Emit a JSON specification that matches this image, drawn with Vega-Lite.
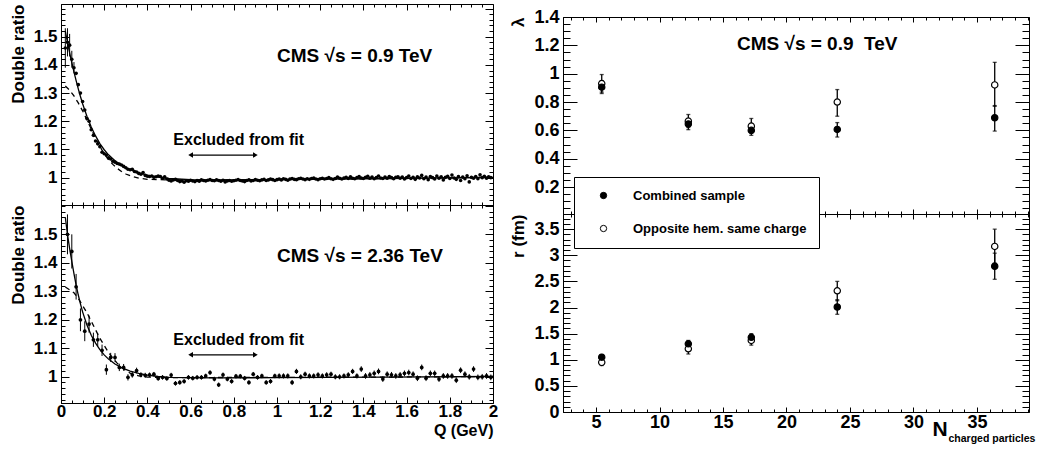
{
"$schema": "https://vega.github.io/schema/vega-lite/v6.json",
"padding": {"left": 8, "top": 3, "right": 0, "bottom": 0},
"config": {
  "view": {"stroke": "black", "strokeWidth": 1},
  "font": "Liberation Sans",
  "axis": {"domainColor": "black", "tickColor": "black", "labelColor": "black", "labelFont": "Liberation Sans", "labelFontWeight": "bold", "labelFontSize": 17, "titleFont": "Liberation Sans", "titleFontWeight": "bold", "titleFontSize": 17, "titleColor": "black", "grid": false, "labelFlush": false, "labelOverlap": false, "tickWidth": 1, "domainWidth": 1}
},
"datasets": {
  "q09": [
    {"Q":0.02,"v":1.46,"e":0.07},{"Q":0.03,"v":1.48,"e":0.05},{"Q":0.04,"v":1.47,"e":0.04},{"Q":0.05,"v":1.42,"e":0.03},{"Q":0.06,"v":1.39,"e":0.02},
    {"Q":0.07,"v":1.37},{"Q":0.08,"v":1.33},{"Q":0.09,"v":1.30},{"Q":0.10,"v":1.27},{"Q":0.11,"v":1.24},{"Q":0.12,"v":1.21},{"Q":0.13,"v":1.20},{"Q":0.14,"v":1.17},{"Q":0.15,"v":1.15},{"Q":0.16,"v":1.13},{"Q":0.17,"v":1.12},{"Q":0.18,"v":1.11},{"Q":0.19,"v":1.09},{"Q":0.20,"v":1.085},
    {"Q":0.21,"v":1.08},{"Q":0.22,"v":1.07},{"Q":0.23,"v":1.066},{"Q":0.24,"v":1.058},{"Q":0.25,"v":1.055},{"Q":0.26,"v":1.05},{"Q":0.27,"v":1.048},{"Q":0.28,"v":1.045},{"Q":0.29,"v":1.04},{"Q":0.30,"v":1.035},
    {"Q":0.31,"v":1.03},{"Q":0.32,"v":1.028},{"Q":0.33,"v":1.03},{"Q":0.34,"v":1.022},{"Q":0.35,"v":1.02},{"Q":0.36,"v":1.015},{"Q":0.37,"v":1.012},{"Q":0.38,"v":1.018},{"Q":0.39,"v":1.008},{"Q":0.40,"v":1.005},
    {"Q":0.41,"v":1.004},{"Q":0.42,"v":1.006},{"Q":0.43,"v":1.001},{"Q":0.44,"v":1.003},{"Q":0.45,"v":1.006},{"Q":0.46,"v":1.004},{"Q":0.47,"v":0.998},{"Q":0.48,"v":1.003},{"Q":0.49,"v":0.995},{"Q":0.50,"v":0.991},
    {"Q":0.51,"v":0.988},{"Q":0.52,"v":0.992},{"Q":0.53,"v":0.994},{"Q":0.54,"v":0.99},{"Q":0.55,"v":0.986},{"Q":0.56,"v":0.988},{"Q":0.57,"v":0.984},{"Q":0.58,"v":0.989},{"Q":0.59,"v":0.987},{"Q":0.60,"v":0.991},
    {"Q":0.61,"v":0.988},{"Q":0.62,"v":0.986},{"Q":0.63,"v":0.99},{"Q":0.64,"v":0.987},{"Q":0.65,"v":0.992},{"Q":0.66,"v":0.99},{"Q":0.67,"v":0.988},{"Q":0.68,"v":0.991},{"Q":0.69,"v":0.993},{"Q":0.70,"v":0.99},
    {"Q":0.71,"v":0.989},{"Q":0.72,"v":0.992},{"Q":0.73,"v":0.99},{"Q":0.74,"v":0.987},{"Q":0.75,"v":0.991},{"Q":0.76,"v":0.985},{"Q":0.77,"v":0.988},{"Q":0.78,"v":0.99},{"Q":0.79,"v":0.987},{"Q":0.80,"v":0.989},
    {"Q":0.81,"v":0.991},{"Q":0.82,"v":0.993},{"Q":0.83,"v":0.99},{"Q":0.84,"v":0.988},{"Q":0.85,"v":0.986},{"Q":0.86,"v":0.99},{"Q":0.87,"v":0.992},{"Q":0.88,"v":0.988},{"Q":0.89,"v":0.99},{"Q":0.90,"v":0.993},
    {"Q":0.91,"v":0.991},{"Q":0.92,"v":0.989},{"Q":0.93,"v":0.992},{"Q":0.94,"v":0.994},{"Q":0.95,"v":0.99},{"Q":0.96,"v":0.992},{"Q":0.97,"v":0.995},{"Q":0.98,"v":0.993},{"Q":0.99,"v":0.99},{"Q":1.00,"v":0.993},
    {"Q":1.01,"v":0.995},{"Q":1.02,"v":0.992},{"Q":1.03,"v":0.996},{"Q":1.04,"v":0.994},{"Q":1.05,"v":0.991},{"Q":1.06,"v":0.995},{"Q":1.07,"v":0.997},{"Q":1.08,"v":0.994},{"Q":1.09,"v":0.993},{"Q":1.10,"v":0.996},
    {"Q":1.11,"v":0.998},{"Q":1.12,"v":0.995},{"Q":1.13,"v":0.993},{"Q":1.14,"v":0.996},{"Q":1.15,"v":0.994},{"Q":1.16,"v":0.997},{"Q":1.17,"v":0.999},{"Q":1.18,"v":0.995},{"Q":1.19,"v":0.993},{"Q":1.20,"v":0.996},
    {"Q":1.21,"v":0.998},{"Q":1.22,"v":0.995},{"Q":1.23,"v":0.997},{"Q":1.24,"v":1.0},{"Q":1.25,"v":0.996},{"Q":1.26,"v":0.994},{"Q":1.27,"v":0.997},{"Q":1.28,"v":1.002},{"Q":1.29,"v":0.998},{"Q":1.30,"v":0.995},
    {"Q":1.31,"v":0.999},{"Q":1.32,"v":1.001},{"Q":1.33,"v":0.997},{"Q":1.34,"v":1.003},{"Q":1.35,"v":0.998},{"Q":1.36,"v":0.996},{"Q":1.37,"v":1.0},{"Q":1.38,"v":1.004},{"Q":1.39,"v":0.999},{"Q":1.40,"v":0.997},
    {"Q":1.41,"v":1.001},{"Q":1.42,"v":1.005},{"Q":1.43,"v":0.998},{"Q":1.44,"v":1.002},{"Q":1.45,"v":0.996},{"Q":1.46,"v":1.0},{"Q":1.47,"v":1.006},{"Q":1.48,"v":0.999},{"Q":1.49,"v":0.997},{"Q":1.50,"v":1.002},
    {"Q":1.51,"v":0.998},{"Q":1.52,"v":1.004},{"Q":1.53,"v":1.0},{"Q":1.54,"v":0.996},{"Q":1.55,"v":1.001},{"Q":1.56,"v":1.003},{"Q":1.57,"v":0.998},{"Q":1.58,"v":1.002},{"Q":1.59,"v":0.995},{"Q":1.60,"v":1.0},
    {"Q":1.61,"v":1.006},{"Q":1.62,"v":0.997},{"Q":1.63,"v":1.001},{"Q":1.64,"v":0.994},{"Q":1.65,"v":1.003},{"Q":1.66,"v":0.999},{"Q":1.67,"v":1.008},{"Q":1.68,"v":0.996},{"Q":1.69,"v":1.002},{"Q":1.70,"v":0.993},
    {"Q":1.71,"v":1.004},{"Q":1.72,"v":1.0},{"Q":1.73,"v":0.995},{"Q":1.74,"v":1.006},{"Q":1.75,"v":0.998},{"Q":1.76,"v":1.003},{"Q":1.77,"v":0.992},{"Q":1.78,"v":1.001},{"Q":1.79,"v":1.005},{"Q":1.80,"v":0.997},
    {"Q":1.81,"v":1.009},{"Q":1.82,"v":0.999},{"Q":1.83,"v":0.994},{"Q":1.84,"v":1.004},{"Q":1.85,"v":0.99},{"Q":1.86,"v":1.002},{"Q":1.87,"v":0.996},{"Q":1.88,"v":1.007},{"Q":1.89,"v":0.985},{"Q":1.90,"v":1.001},
    {"Q":1.91,"v":0.998},{"Q":1.92,"v":1.004},{"Q":1.93,"v":0.996},{"Q":1.94,"v":1.01},{"Q":1.95,"v":1.0},{"Q":1.96,"v":1.005},{"Q":1.97,"v":0.998},{"Q":1.98,"v":1.003},{"Q":1.99,"v":1.0}
  ],
  "fit09": [
    {"Q":0.02,"v":1.52,"f":"exp"},{"Q":0.03,"v":1.48,"f":"exp"},{"Q":0.04,"v":1.443,"f":"exp"},{"Q":0.05,"v":1.408,"f":"exp"},{"Q":0.06,"v":1.375,"f":"exp"},{"Q":0.07,"v":1.344,"f":"exp"},{"Q":0.08,"v":1.315,"f":"exp"},{"Q":0.09,"v":1.288,"f":"exp"},{"Q":0.10,"v":1.262,"f":"exp"},{"Q":0.12,"v":1.218,"f":"exp"},{"Q":0.14,"v":1.18,"f":"exp"},{"Q":0.16,"v":1.148,"f":"exp"},{"Q":0.18,"v":1.121,"f":"exp"},{"Q":0.20,"v":1.099,"f":"exp"},{"Q":0.22,"v":1.081,"f":"exp"},{"Q":0.25,"v":1.06,"f":"exp"},{"Q":0.28,"v":1.044,"f":"exp"},{"Q":0.32,"v":1.028,"f":"exp"},{"Q":0.36,"v":1.017,"f":"exp"},{"Q":0.40,"v":1.009,"f":"exp"},{"Q":0.45,"v":1.002,"f":"exp"},{"Q":0.50,"v":0.997,"f":"exp"},{"Q":0.60,"v":0.993,"f":"exp"},{"Q":0.80,"v":0.992,"f":"exp"},{"Q":1.00,"v":0.993,"f":"exp"},{"Q":1.50,"v":0.997,"f":"exp"},{"Q":2.00,"v":1.001,"f":"exp"},
    {"Q":0.02,"v":1.325,"f":"gauss"},{"Q":0.04,"v":1.31,"f":"gauss"},{"Q":0.06,"v":1.29,"f":"gauss"},{"Q":0.08,"v":1.265,"f":"gauss"},{"Q":0.10,"v":1.237,"f":"gauss"},{"Q":0.12,"v":1.205,"f":"gauss"},{"Q":0.14,"v":1.172,"f":"gauss"},{"Q":0.16,"v":1.14,"f":"gauss"},{"Q":0.18,"v":1.11,"f":"gauss"},{"Q":0.20,"v":1.085,"f":"gauss"},{"Q":0.22,"v":1.064,"f":"gauss"},{"Q":0.24,"v":1.047,"f":"gauss"},{"Q":0.26,"v":1.033,"f":"gauss"},{"Q":0.28,"v":1.022,"f":"gauss"},{"Q":0.30,"v":1.013,"f":"gauss"},{"Q":0.33,"v":1.004,"f":"gauss"},{"Q":0.36,"v":0.998,"f":"gauss"},{"Q":0.40,"v":0.994,"f":"gauss"},{"Q":0.50,"v":0.992,"f":"gauss"},{"Q":0.80,"v":0.992,"f":"gauss"},{"Q":1.00,"v":0.993,"f":"gauss"},{"Q":1.50,"v":0.997,"f":"gauss"},{"Q":2.00,"v":1.001,"f":"gauss"}
  ],
  "q236": [
    {"Q":0.03,"v":1.50,"e":0.07},{"Q":0.05,"v":1.44,"e":0.06},{"Q":0.07,"v":1.316,"e":0.045},{"Q":0.09,"v":1.20,"e":0.04},{"Q":0.11,"v":1.16,"e":0.035},{"Q":0.13,"v":1.185,"e":0.03},{"Q":0.15,"v":1.13,"e":0.025},{"Q":0.17,"v":1.13,"e":0.022},{"Q":0.19,"v":1.093,"e":0.02},{"Q":0.21,"v":1.025,"e":0.018},
    {"Q":0.23,"v":1.068,"e":0.016},{"Q":0.25,"v":1.068,"e":0.015},{"Q":0.27,"v":1.033,"e":0.013},{"Q":0.29,"v":1.033,"e":0.012},{"Q":0.31,"v":0.998,"e":0.011},{"Q":0.33,"v":1.007,"e":0.01},{"Q":0.35,"v":1.022,"e":0.01},{"Q":0.37,"v":1.007,"e":0.009},{"Q":0.39,"v":1.005,"e":0.009},{"Q":0.41,"v":1.007,"e":0.008},
    {"Q":0.43,"v":1.009,"e":0.008},{"Q":0.45,"v":0.994,"e":0.008},{"Q":0.47,"v":0.998,"e":0.008},{"Q":0.49,"v":0.994,"e":0.008},{"Q":0.51,"v":1.006,"e":0.008},{"Q":0.53,"v":0.977,"e":0.008},{"Q":0.55,"v":0.98,"e":0.008},{"Q":0.57,"v":0.984,"e":0.008},{"Q":0.59,"v":0.998,"e":0.008},{"Q":0.61,"v":0.995,"e":0.008},
    {"Q":0.63,"v":0.998,"e":0.008},{"Q":0.65,"v":0.998,"e":0.008},{"Q":0.67,"v":1.003,"e":0.008},{"Q":0.69,"v":1.015,"e":0.008},{"Q":0.71,"v":0.992,"e":0.008},{"Q":0.73,"v":0.972,"e":0.008},{"Q":0.75,"v":1.007,"e":0.008},{"Q":0.77,"v":0.992,"e":0.008},{"Q":0.79,"v":0.984,"e":0.008},{"Q":0.81,"v":1.002,"e":0.008},
    {"Q":0.83,"v":1.002,"e":0.008},{"Q":0.85,"v":0.995,"e":0.008},{"Q":0.87,"v":0.98,"e":0.008},{"Q":0.89,"v":1.009,"e":0.008},{"Q":0.91,"v":0.998,"e":0.008},{"Q":0.93,"v":1.003,"e":0.008},{"Q":0.95,"v":0.98,"e":0.008},{"Q":0.97,"v":0.984,"e":0.008},{"Q":0.99,"v":1.003,"e":0.008},{"Q":1.01,"v":1.003,"e":0.009},
    {"Q":1.03,"v":1.003,"e":0.009},{"Q":1.05,"v":1.003,"e":0.009},{"Q":1.07,"v":0.98,"e":0.009},{"Q":1.09,"v":1.019,"e":0.009},{"Q":1.11,"v":1.0,"e":0.009},{"Q":1.13,"v":1.009,"e":0.009},{"Q":1.15,"v":1.003,"e":0.009},{"Q":1.17,"v":1.003,"e":0.009},{"Q":1.19,"v":1.007,"e":0.009},{"Q":1.21,"v":1.003,"e":0.009},
    {"Q":1.23,"v":1.007,"e":0.009},{"Q":1.25,"v":1.009,"e":0.009},{"Q":1.27,"v":1.0,"e":0.009},{"Q":1.29,"v":1.0,"e":0.009},{"Q":1.31,"v":1.003,"e":0.009},{"Q":1.33,"v":1.007,"e":0.009},{"Q":1.35,"v":1.019,"e":0.009},{"Q":1.37,"v":1.003,"e":0.009},{"Q":1.39,"v":1.027,"e":0.01},{"Q":1.41,"v":1.003,"e":0.01},
    {"Q":1.43,"v":1.007,"e":0.01},{"Q":1.45,"v":1.012,"e":0.01},{"Q":1.47,"v":1.019,"e":0.01},{"Q":1.49,"v":0.992,"e":0.01},{"Q":1.51,"v":1.009,"e":0.01},{"Q":1.53,"v":1.007,"e":0.01},{"Q":1.55,"v":1.003,"e":0.01},{"Q":1.57,"v":1.007,"e":0.01},{"Q":1.59,"v":1.012,"e":0.01},{"Q":1.61,"v":1.015,"e":0.01},
    {"Q":1.63,"v":1.009,"e":0.01},{"Q":1.65,"v":0.995,"e":0.01},{"Q":1.67,"v":1.033,"e":0.01},{"Q":1.69,"v":0.995,"e":0.01},{"Q":1.71,"v":1.012,"e":0.01},{"Q":1.73,"v":1.012,"e":0.01},{"Q":1.75,"v":0.992,"e":0.01},{"Q":1.77,"v":1.003,"e":0.01},{"Q":1.79,"v":1.003,"e":0.01},{"Q":1.81,"v":1.003,"e":0.01},
    {"Q":1.83,"v":0.988,"e":0.01},{"Q":1.85,"v":1.023,"e":0.01},{"Q":1.87,"v":1.009,"e":0.01},{"Q":1.89,"v":1.0,"e":0.01},{"Q":1.91,"v":1.027,"e":0.01},{"Q":1.93,"v":0.998,"e":0.01},{"Q":1.95,"v":1.0,"e":0.01},{"Q":1.97,"v":1.003,"e":0.01},{"Q":1.99,"v":0.998,"e":0.01}
  ],
  "fit236": [
    {"Q":0.02,"v":1.56,"f":"exp"},{"Q":0.03,"v":1.50,"f":"exp"},{"Q":0.04,"v":1.45,"f":"exp"},{"Q":0.05,"v":1.405,"f":"exp"},{"Q":0.06,"v":1.362,"f":"exp"},{"Q":0.07,"v":1.322,"f":"exp"},{"Q":0.08,"v":1.287,"f":"exp"},{"Q":0.09,"v":1.256,"f":"exp"},{"Q":0.10,"v":1.228,"f":"exp"},{"Q":0.12,"v":1.182,"f":"exp"},{"Q":0.14,"v":1.146,"f":"exp"},{"Q":0.16,"v":1.118,"f":"exp"},{"Q":0.18,"v":1.095,"f":"exp"},{"Q":0.20,"v":1.077,"f":"exp"},{"Q":0.22,"v":1.062,"f":"exp"},{"Q":0.25,"v":1.045,"f":"exp"},{"Q":0.28,"v":1.032,"f":"exp"},{"Q":0.32,"v":1.02,"f":"exp"},{"Q":0.36,"v":1.012,"f":"exp"},{"Q":0.40,"v":1.006,"f":"exp"},{"Q":0.45,"v":1.001,"f":"exp"},{"Q":0.50,"v":0.998,"f":"exp"},{"Q":0.70,"v":0.996,"f":"exp"},{"Q":1.00,"v":0.997,"f":"exp"},{"Q":1.50,"v":0.999,"f":"exp"},{"Q":2.00,"v":1.001,"f":"exp"},
    {"Q":0.02,"v":1.315,"f":"gauss"},{"Q":0.04,"v":1.305,"f":"gauss"},{"Q":0.06,"v":1.295,"f":"gauss"},{"Q":0.08,"v":1.275,"f":"gauss"},{"Q":0.10,"v":1.25,"f":"gauss"},{"Q":0.12,"v":1.225,"f":"gauss"},{"Q":0.14,"v":1.195,"f":"gauss"},{"Q":0.16,"v":1.165,"f":"gauss"},{"Q":0.18,"v":1.135,"f":"gauss"},{"Q":0.20,"v":1.11,"f":"gauss"},{"Q":0.22,"v":1.085,"f":"gauss"},{"Q":0.24,"v":1.065,"f":"gauss"},{"Q":0.26,"v":1.048,"f":"gauss"},{"Q":0.28,"v":1.033,"f":"gauss"},{"Q":0.30,"v":1.022,"f":"gauss"},{"Q":0.32,"v":1.013,"f":"gauss"},{"Q":0.34,"v":1.007,"f":"gauss"},{"Q":0.36,"v":1.003,"f":"gauss"},{"Q":0.40,"v":0.999,"f":"gauss"},{"Q":0.50,"v":0.997,"f":"gauss"},{"Q":1.00,"v":0.998,"f":"gauss"},{"Q":1.50,"v":0.999,"f":"gauss"},{"Q":2.00,"v":1.001,"f":"gauss"}
  ],
  "txt": [
    {"p":"a","k":"cms","x":1.0,"y":1.433,"t":"CMS √s = 0.9 TeV"},
    {"p":"a","k":"note","x":0.52,"y":1.135,"t":"Excluded from fit"},
    {"p":"b","k":"cms","x":1.0,"y":1.423,"t":"CMS √s = 2.36 TeV"},
    {"p":"b","k":"note","x":0.52,"y":1.13,"t":"Excluded from fit"},
    {"p":"c","k":"cms","x":16.1,"y":1.21,"t":"CMS √s = 0.9\u00a0 TeV"}
  ],
  "arr": [
    {"p":"a","x1":0.6,"x2":0.9,"y":1.08},
    {"p":"b","x1":0.6,"x2":0.9,"y":1.077}
  ],
  "heads": [
    {"p":"a","x":0.6,"y":1.08,"d":"l"},{"p":"a","x":0.9,"y":1.08,"d":"r"},
    {"p":"b","x":0.6,"y":1.077,"d":"l"},{"p":"b","x":0.9,"y":1.077,"d":"r"}
  ],
  "lam": [
    {"n":5.45,"s":"Combined sample","v":0.905,"lo":0.86,"hi":0.95},
    {"n":12.27,"s":"Combined sample","v":0.645,"lo":0.605,"hi":0.685},
    {"n":17.23,"s":"Combined sample","v":0.60,"lo":0.565,"hi":0.635},
    {"n":24.0,"s":"Combined sample","v":0.607,"lo":0.553,"hi":0.655},
    {"n":36.4,"s":"Combined sample","v":0.689,"lo":0.595,"hi":0.775},
    {"n":5.45,"s":"Opposite hem. same charge","v":0.93,"lo":0.87,"hi":0.994},
    {"n":12.27,"s":"Opposite hem. same charge","v":0.665,"lo":0.62,"hi":0.712},
    {"n":17.23,"s":"Opposite hem. same charge","v":0.63,"lo":0.58,"hi":0.684},
    {"n":24.0,"s":"Opposite hem. same charge","v":0.80,"lo":0.70,"hi":0.888},
    {"n":36.4,"s":"Opposite hem. same charge","v":0.921,"lo":0.77,"hi":1.08}
  ],
  "rad": [
    {"n":5.45,"s":"Combined sample","v":1.05,"lo":1.0,"hi":1.1},
    {"n":12.27,"s":"Combined sample","v":1.305,"lo":1.24,"hi":1.37},
    {"n":17.23,"s":"Combined sample","v":1.43,"lo":1.36,"hi":1.5},
    {"n":24.0,"s":"Combined sample","v":2.01,"lo":1.87,"hi":2.15},
    {"n":36.4,"s":"Combined sample","v":2.79,"lo":2.54,"hi":3.04},
    {"n":5.45,"s":"Opposite hem. same charge","v":0.95,"lo":0.89,"hi":1.01},
    {"n":12.27,"s":"Opposite hem. same charge","v":1.21,"lo":1.11,"hi":1.3},
    {"n":17.23,"s":"Opposite hem. same charge","v":1.37,"lo":1.28,"hi":1.46},
    {"n":24.0,"s":"Opposite hem. same charge","v":2.32,"lo":2.13,"hi":2.5},
    {"n":36.4,"s":"Opposite hem. same charge","v":3.17,"lo":2.85,"hi":3.5}
  ],
  "none": []
},
"spacing": 10,
"hconcat": [
  {
    "spacing": 0,
    "bounds": "flush",
    "resolve": {"scale": {"shape": "independent"}},
    "vconcat": [
      {
        "width": 432, "height": 201,
        "resolve": {"axis": {"x": "independent", "y": "independent"}},
        "layer": [
          {"data": {"name": "q09"}, "transform": [{"filter": "isValid(datum.e)"}],
           "mark": {"type": "errorbar", "color": "black", "thickness": 1},
           "encoding": {
             "x": {"field": "Q", "type": "quantitative", "scale": {"domain": [0, 2], "nice": false, "zero": false},
                   "axis": {"orient": "bottom", "values": [0.05,0.1,0.15,0.2,0.25,0.3,0.35,0.4,0.45,0.5,0.55,0.6,0.65,0.7,0.75,0.8,0.85,0.9,0.95,1,1.05,1.1,1.15,1.2,1.25,1.3,1.35,1.4,1.45,1.5,1.55,1.6,1.65,1.7,1.75,1.8,1.85,1.9,1.95], "labels": false, "domain": false, "tickSize": -3, "title": null, "minExtent": 0, "maxExtent": 0}},
             "y": {"field": "v", "type": "quantitative", "scale": {"domain": [0.903, 1.616], "nice": false, "zero": false},
                   "axis": {"orient": "left", "values": [0.92,0.94,0.96,0.98,1,1.02,1.04,1.06,1.08,1.1,1.12,1.14,1.16,1.18,1.2,1.22,1.24,1.26,1.28,1.3,1.32,1.34,1.36,1.38,1.4,1.42,1.44,1.46,1.48,1.5,1.52,1.54,1.56,1.58,1.6], "labels": false, "domain": false, "tickSize": -4, "title": null, "minExtent": 0, "maxExtent": 0}},
             "yError": {"field": "e"}
           }},
          {"data": {"name": "q09"},
           "mark": {"type": "circle", "color": "black", "opacity": 1, "size": 13},
           "encoding": {
             "x": {"field": "Q", "type": "quantitative", "scale": {"domain": [0, 2], "nice": false, "zero": false},
                   "axis": {"orient": "bottom", "values": [0,0.2,0.4,0.6,0.8,1,1.2,1.4,1.6,1.8,2], "labels": false, "tickSize": -6, "title": null, "minExtent": 0, "maxExtent": 0}},
             "y": {"field": "v", "type": "quantitative", "scale": {"domain": [0.903, 1.616], "nice": false, "zero": false},
                   "axis": {"orient": "left", "values": [1,1.1,1.2,1.3,1.4,1.5], "format": "~g", "tickSize": -8, "labelPadding": 12, "title": "Double ratio", "titleAnchor": "end", "titlePadding": 6}}
           }},
          {"data": {"name": "fit09"}, "transform": [{"filter": "datum.f == 'exp'"}],
           "mark": {"type": "line", "color": "black", "strokeWidth": 1.3},
           "encoding": {
             "x": {"field": "Q", "type": "quantitative", "axis": {"orient": "top", "values": [0,0.2,0.4,0.6,0.8,1,1.2,1.4,1.6,1.8,2], "labels": false, "domain": false, "tickSize": -6, "title": null, "minExtent": 0, "maxExtent": 0}},
             "y": {"field": "v", "type": "quantitative", "axis": {"orient": "right", "values": [1,1.1,1.2,1.3,1.4,1.5,1.6], "labels": false, "domain": false, "tickSize": -8, "title": null, "minExtent": 0, "maxExtent": 0}}
           }},
          {"data": {"name": "fit09"}, "transform": [{"filter": "datum.f == 'gauss'"}],
           "mark": {"type": "line", "color": "black", "strokeWidth": 1.3, "strokeDash": [5, 4]},
           "encoding": {
             "x": {"field": "Q", "type": "quantitative", "axis": {"orient": "top", "values": [0.05,0.1,0.15,0.2,0.25,0.3,0.35,0.4,0.45,0.5,0.55,0.6,0.65,0.7,0.75,0.8,0.85,0.9,0.95,1,1.05,1.1,1.15,1.2,1.25,1.3,1.35,1.4,1.45,1.5,1.55,1.6,1.65,1.7,1.75,1.8,1.85,1.9,1.95], "labels": false, "domain": false, "tickSize": -3, "title": null, "minExtent": 0, "maxExtent": 0}},
             "y": {"field": "v", "type": "quantitative", "axis": {"orient": "right", "values": [0.92,0.94,0.96,0.98,1,1.02,1.04,1.06,1.08,1.1,1.12,1.14,1.16,1.18,1.2,1.22,1.24,1.26,1.28,1.3,1.32,1.34,1.36,1.38,1.4,1.42,1.44,1.46,1.48,1.5,1.52,1.54,1.56,1.58,1.6], "labels": false, "domain": false, "tickSize": -4, "title": null, "minExtent": 0, "maxExtent": 0}}
           }},
          {"data": {"name": "txt"}, "transform": [{"filter": "datum.p == 'a' && datum.k == 'cms'"}],
           "mark": {"type": "text", "align": "left", "baseline": "middle", "fontSize": 19, "fontWeight": "bold", "font": "Liberation Sans", "color": "black"},
           "encoding": {"x": {"field": "x", "type": "quantitative", "axis": null}, "y": {"field": "y", "type": "quantitative", "axis": null}, "text": {"field": "t"}}},
          {"data": {"name": "txt"}, "transform": [{"filter": "datum.p == 'a' && datum.k == 'note'"}],
           "mark": {"type": "text", "align": "left", "baseline": "middle", "fontSize": 16, "fontWeight": "bold", "font": "Liberation Sans", "color": "black"},
           "encoding": {"x": {"field": "x", "type": "quantitative", "axis": null}, "y": {"field": "y", "type": "quantitative", "axis": null}, "text": {"field": "t"}}},
          {"data": {"name": "arr"}, "transform": [{"filter": "datum.p == 'a'"}],
           "mark": {"type": "rule", "color": "black", "strokeWidth": 1.3},
           "encoding": {"x": {"field": "x1", "type": "quantitative", "axis": null}, "x2": {"field": "x2"}, "y": {"field": "y", "type": "quantitative", "axis": null}}},
          {"data": {"name": "heads"}, "transform": [{"filter": "datum.p == 'a'"}],
           "mark": {"type": "point", "filled": true, "color": "black", "opacity": 1, "size": 30},
           "encoding": {"x": {"field": "x", "type": "quantitative", "axis": null}, "y": {"field": "y", "type": "quantitative", "axis": null},
                        "shape": {"field": "d", "type": "nominal", "scale": {"domain": ["l", "r"], "range": ["triangle-left", "triangle-right"]}, "legend": null}}}
        ]
      },
      {
        "width": 432, "height": 198,
        "resolve": {"axis": {"x": "independent", "y": "independent"}},
        "layer": [
          {"data": {"name": "q236"},
           "mark": {"type": "errorbar", "color": "black", "thickness": 1},
           "encoding": {
             "x": {"field": "Q", "type": "quantitative", "scale": {"domain": [0, 2], "nice": false, "zero": false},
                   "axis": {"orient": "bottom", "values": [0.05,0.1,0.15,0.2,0.25,0.3,0.35,0.4,0.45,0.5,0.55,0.6,0.65,0.7,0.75,0.8,0.85,0.9,0.95,1,1.05,1.1,1.15,1.2,1.25,1.3,1.35,1.4,1.45,1.5,1.55,1.6,1.65,1.7,1.75,1.8,1.85,1.9,1.95], "labels": false, "domain": false, "tickSize": -3, "title": null, "minExtent": 0, "maxExtent": 0}},
             "y": {"field": "v", "type": "quantitative", "scale": {"domain": [0.908, 1.603], "nice": false, "zero": false},
                   "axis": {"orient": "left", "values": [0.92,0.94,0.96,0.98,1,1.02,1.04,1.06,1.08,1.1,1.12,1.14,1.16,1.18,1.2,1.22,1.24,1.26,1.28,1.3,1.32,1.34,1.36,1.38,1.4,1.42,1.44,1.46,1.48,1.5,1.52,1.54,1.56,1.58,1.6], "labels": false, "domain": false, "tickSize": -4, "title": null, "minExtent": 0, "maxExtent": 0}},
             "yError": {"field": "e"}
           }},
          {"data": {"name": "q236"},
           "mark": {"type": "circle", "color": "black", "opacity": 1, "size": 14},
           "encoding": {
             "x": {"field": "Q", "type": "quantitative", "scale": {"domain": [0, 2], "nice": false, "zero": false},
                   "axis": {"orient": "bottom", "values": [0,0.2,0.4,0.6,0.8,1,1.2,1.4,1.6,1.8,2], "format": "~g", "tickSize": -6, "labelPadding": 6, "title": "Q (GeV)", "titleAnchor": "end", "titlePadding": 3, "titleFontSize": 16}},
             "y": {"field": "v", "type": "quantitative", "scale": {"domain": [0.908, 1.603], "nice": false, "zero": false},
                   "axis": {"orient": "left", "values": [1,1.1,1.2,1.3,1.4,1.5], "format": "~g", "tickSize": -8, "labelPadding": 12, "title": "Double ratio", "titleAnchor": "end", "titlePadding": 6}}
           }},
          {"data": {"name": "fit236"}, "transform": [{"filter": "datum.f == 'exp'"}],
           "mark": {"type": "line", "color": "black", "strokeWidth": 1.3},
           "encoding": {
             "x": {"field": "Q", "type": "quantitative", "axis": {"orient": "top", "values": [0,0.2,0.4,0.6,0.8,1,1.2,1.4,1.6,1.8,2], "labels": false, "domain": false, "tickSize": -6, "title": null, "minExtent": 0, "maxExtent": 0}},
             "y": {"field": "v", "type": "quantitative", "axis": {"orient": "right", "values": [1,1.1,1.2,1.3,1.4,1.5,1.6], "labels": false, "domain": false, "tickSize": -8, "title": null, "minExtent": 0, "maxExtent": 0}}
           }},
          {"data": {"name": "fit236"}, "transform": [{"filter": "datum.f == 'gauss'"}],
           "mark": {"type": "line", "color": "black", "strokeWidth": 1.3, "strokeDash": [5, 4]},
           "encoding": {
             "x": {"field": "Q", "type": "quantitative", "axis": {"orient": "top", "values": [0.05,0.1,0.15,0.2,0.25,0.3,0.35,0.4,0.45,0.5,0.55,0.6,0.65,0.7,0.75,0.8,0.85,0.9,0.95,1,1.05,1.1,1.15,1.2,1.25,1.3,1.35,1.4,1.45,1.5,1.55,1.6,1.65,1.7,1.75,1.8,1.85,1.9,1.95], "labels": false, "domain": false, "tickSize": -3, "title": null, "minExtent": 0, "maxExtent": 0}},
             "y": {"field": "v", "type": "quantitative", "axis": {"orient": "right", "values": [0.92,0.94,0.96,0.98,1,1.02,1.04,1.06,1.08,1.1,1.12,1.14,1.16,1.18,1.2,1.22,1.24,1.26,1.28,1.3,1.32,1.34,1.36,1.38,1.4,1.42,1.44,1.46,1.48,1.5,1.52,1.54,1.56,1.58,1.6], "labels": false, "domain": false, "tickSize": -4, "title": null, "minExtent": 0, "maxExtent": 0}}
           }},
          {"data": {"name": "txt"}, "transform": [{"filter": "datum.p == 'b' && datum.k == 'cms'"}],
           "mark": {"type": "text", "align": "left", "baseline": "middle", "fontSize": 19, "fontWeight": "bold", "font": "Liberation Sans", "color": "black"},
           "encoding": {"x": {"field": "x", "type": "quantitative", "axis": null}, "y": {"field": "y", "type": "quantitative", "axis": null}, "text": {"field": "t"}}},
          {"data": {"name": "txt"}, "transform": [{"filter": "datum.p == 'b' && datum.k == 'note'"}],
           "mark": {"type": "text", "align": "left", "baseline": "middle", "fontSize": 16, "fontWeight": "bold", "font": "Liberation Sans", "color": "black"},
           "encoding": {"x": {"field": "x", "type": "quantitative", "axis": null}, "y": {"field": "y", "type": "quantitative", "axis": null}, "text": {"field": "t"}}},
          {"data": {"name": "arr"}, "transform": [{"filter": "datum.p == 'b'"}],
           "mark": {"type": "rule", "color": "black", "strokeWidth": 1.3},
           "encoding": {"x": {"field": "x1", "type": "quantitative", "axis": null}, "x2": {"field": "x2"}, "y": {"field": "y", "type": "quantitative", "axis": null}}},
          {"data": {"name": "heads"}, "transform": [{"filter": "datum.p == 'b'"}],
           "mark": {"type": "point", "filled": true, "color": "black", "opacity": 1, "size": 30},
           "encoding": {"x": {"field": "x", "type": "quantitative", "axis": null}, "y": {"field": "y", "type": "quantitative", "axis": null},
                        "shape": {"field": "d", "type": "nominal", "scale": {"domain": ["l", "r"], "range": ["triangle-left", "triangle-right"]}, "legend": null}}}
        ]
      }
    ]
  },
  {
    "spacing": 0,
    "bounds": "flush",
    "resolve": {"scale": {"fill": "independent"}, "legend": {"fill": "independent"}},
    "vconcat": [
      {
        "width": 466, "height": 13,
        "view": {"stroke": null},
        "data": {"name": "none"},
        "mark": {"type": "point", "opacity": 0},
        "encoding": {}
      },
      {
        "width": 466, "height": 197,
        "resolve": {"axis": {"x": "independent", "y": "independent"}},
        "layer": [
          {"data": {"name": "lam"}, "transform": [{"filter": "datum.s == 'Combined sample'"}],
           "mark": {"type": "errorbar", "color": "black", "thickness": 1.3, "ticks": true, "size": 4},
           "encoding": {
             "x": {"field": "n", "type": "quantitative", "scale": {"domain": [2.4, 39.1], "nice": false, "zero": false},
                   "axis": {"orient": "bottom", "values": [3,4,5,6,7,8,9,10,11,12,13,14,15,16,17,18,19,20,21,22,23,24,25,26,27,28,29,30,31,32,33,34,35,36,37,38,39], "labels": false, "domain": false, "tickSize": -3, "title": null, "minExtent": 0, "maxExtent": 0}},
             "y": {"field": "lo", "type": "quantitative", "scale": {"domain": [0.01, 1.4], "nice": false, "zero": false},
                   "axis": {"orient": "left", "values": [0.05,0.1,0.15,0.2,0.25,0.3,0.35,0.4,0.45,0.5,0.55,0.6,0.65,0.7,0.75,0.8,0.85,0.9,0.95,1,1.05,1.1,1.15,1.2,1.25,1.3,1.35], "labels": false, "domain": false, "tickSize": -7, "title": null, "minExtent": 0, "maxExtent": 0}},
             "y2": {"field": "hi"}
           }},
          {"data": {"name": "lam"}, "transform": [{"filter": "datum.s != 'Combined sample'"}],
           "mark": {"type": "errorbar", "color": "black", "thickness": 1.3, "ticks": true, "size": 4},
           "encoding": {
             "x": {"field": "n", "type": "quantitative",
                   "axis": {"orient": "top", "values": [3,4,5,6,7,8,9,10,11,12,13,14,15,16,17,18,19,20,21,22,23,24,25,26,27,28,29,30,31,32,33,34,35,36,37,38,39], "labels": false, "domain": false, "tickSize": -3, "title": null, "minExtent": 0, "maxExtent": 0}},
             "y": {"field": "lo", "type": "quantitative",
                   "axis": {"orient": "right", "values": [0.05,0.1,0.15,0.2,0.25,0.3,0.35,0.4,0.45,0.5,0.55,0.6,0.65,0.7,0.75,0.8,0.85,0.9,0.95,1,1.05,1.1,1.15,1.2,1.25,1.3,1.35], "labels": false, "domain": false, "tickSize": -7, "title": null, "minExtent": 0, "maxExtent": 0}},
             "y2": {"field": "hi"}
           }},
          {"data": {"name": "lam"}, "transform": [{"filter": "datum.s != 'Combined sample'"}],
           "mark": {"type": "point", "shape": "circle", "filled": true, "stroke": "black", "strokeWidth": 1.2, "opacity": 1, "size": 40},
           "encoding": {
             "x": {"field": "n", "type": "quantitative",
                   "axis": {"orient": "top", "values": [5,10,15,20,25,30,35], "labels": false, "domain": false, "tickSize": -5, "title": null, "minExtent": 0, "maxExtent": 0}},
             "y": {"field": "v", "type": "quantitative",
                   "axis": {"orient": "right", "values": [0.2,0.4,0.6,0.8,1,1.2,1.4], "labels": false, "domain": false, "tickSize": -14, "title": null, "minExtent": 0, "maxExtent": 0}},
             "fill": {"field": "s", "type": "nominal", "scale": {"domain": ["Combined sample", "Opposite hem. same charge"], "range": ["black", "white"]}, "legend": null}
           }},
          {"data": {"name": "lam"}, "transform": [{"filter": "datum.s == 'Combined sample'"}],
           "mark": {"type": "point", "shape": "circle", "filled": true, "stroke": "black", "strokeWidth": 1.2, "opacity": 1, "size": 40},
           "encoding": {
             "x": {"field": "n", "type": "quantitative",
                   "axis": {"orient": "bottom", "values": [5,10,15,20,25,30,35], "labels": false, "tickSize": -5, "title": null, "minExtent": 0, "maxExtent": 0}},
             "y": {"field": "v", "type": "quantitative",
                   "axis": {"orient": "left", "values": [0.2,0.4,0.6,0.8,1,1.2,1.4], "format": "~g", "labelFontSize": 18, "tickSize": -14, "labelPadding": 18, "title": "λ", "titleAnchor": "end", "titlePadding": 6}},
             "fill": {"field": "s", "type": "nominal", "scale": {"domain": ["Combined sample", "Opposite hem. same charge"], "range": ["black", "white"]}, "legend": null}
           }},
          {"data": {"name": "txt"}, "transform": [{"filter": "datum.p == 'c'"}],
           "mark": {"type": "text", "align": "left", "baseline": "middle", "fontSize": 19, "fontWeight": "bold", "font": "Liberation Sans", "color": "black"},
           "encoding": {"x": {"field": "x", "type": "quantitative", "axis": null}, "y": {"field": "y", "type": "quantitative", "axis": null}, "text": {"field": "t"}}}
        ]
      },
      {
        "width": 466, "height": 198,
        "resolve": {"axis": {"x": "independent", "y": "independent"}},
        "layer": [
          {"data": {"name": "rad"}, "transform": [{"filter": "datum.s == 'Combined sample'"}],
           "mark": {"type": "errorbar", "color": "black", "thickness": 1.3, "ticks": true, "size": 4},
           "encoding": {
             "x": {"field": "n", "type": "quantitative", "scale": {"domain": [2.4, 39.1], "nice": false, "zero": false},
                   "axis": {"orient": "bottom", "values": [3,4,5,6,7,8,9,10,11,12,13,14,15,16,17,18,19,20,21,22,23,24,25,26,27,28,29,30,31,32,33,34,35,36,37,38,39], "labels": false, "domain": false, "tickSize": -3, "title": "charged particles", "titleFontSize": 10.5, "titleX": 385, "titleY": 29, "titleAlign": "left", "titleBaseline": "alphabetic", "titleAngle": 0}},
             "y": {"field": "lo", "type": "quantitative", "scale": {"domain": [0, 3.79], "nice": false, "zero": false},
                   "axis": {"orient": "left", "values": [0.1,0.2,0.3,0.4,0.5,0.6,0.7,0.8,0.9,1,1.1,1.2,1.3,1.4,1.5,1.6,1.7,1.8,1.9,2,2.1,2.2,2.3,2.4,2.5,2.6,2.7,2.8,2.9,3,3.1,3.2,3.3,3.4,3.5,3.6,3.7], "labels": false, "domain": false, "tickSize": -7, "title": null, "minExtent": 0, "maxExtent": 0}},
             "y2": {"field": "hi"}
           }},
          {"data": {"name": "rad"}, "transform": [{"filter": "datum.s != 'Combined sample'"}],
           "mark": {"type": "errorbar", "color": "black", "thickness": 1.3, "ticks": true, "size": 4},
           "encoding": {
             "x": {"field": "n", "type": "quantitative",
                   "axis": {"orient": "top", "values": [3,4,5,6,7,8,9,10,11,12,13,14,15,16,17,18,19,20,21,22,23,24,25,26,27,28,29,30,31,32,33,34,35,36,37,38,39], "labels": false, "domain": false, "tickSize": -3, "title": null, "minExtent": 0, "maxExtent": 0}},
             "y": {"field": "lo", "type": "quantitative",
                   "axis": {"orient": "right", "values": [0.1,0.2,0.3,0.4,0.5,0.6,0.7,0.8,0.9,1,1.1,1.2,1.3,1.4,1.5,1.6,1.7,1.8,1.9,2,2.1,2.2,2.3,2.4,2.5,2.6,2.7,2.8,2.9,3,3.1,3.2,3.3,3.4,3.5,3.6,3.7], "labels": false, "domain": false, "tickSize": -7, "title": null, "minExtent": 0, "maxExtent": 0}},
             "y2": {"field": "hi"}
           }},
          {"data": {"name": "rad"}, "transform": [{"filter": "datum.s != 'Combined sample'"}],
           "mark": {"type": "point", "shape": "circle", "filled": true, "stroke": "black", "strokeWidth": 1.2, "opacity": 1, "size": 40},
           "encoding": {
             "x": {"field": "n", "type": "quantitative",
                   "axis": {"orient": "top", "values": [5,10,15,20,25,30,35], "labels": false, "domain": false, "tickSize": -5, "title": null, "minExtent": 0, "maxExtent": 0}},
             "y": {"field": "v", "type": "quantitative",
                   "axis": {"orient": "right", "values": [0.5,1,1.5,2,2.5,3,3.5], "labels": false, "domain": false, "tickSize": -14, "title": null, "minExtent": 0, "maxExtent": 0}},
             "fill": {"field": "s", "type": "nominal", "scale": {"domain": ["Combined sample", "Opposite hem. same charge"], "range": ["black", "white"]},
                      "legend": {"orient": "none", "legendX": 11, "legendY": -37, "title": null, "fillColor": "white", "strokeColor": "black", "padding": 12, "symbolOffset": 11, "labelOffset": 23, "rowPadding": 19, "labelFontSize": 13, "labelFont": "Liberation Sans", "labelFontWeight": "bold", "labelColor": "black", "labelLimit": 300, "symbolStrokeColor": "black", "symbolStrokeWidth": 1, "symbolSize": 40, "symbolType": "circle"}}
           }},
          {"data": {"name": "rad"}, "transform": [{"filter": "datum.s == 'Combined sample'"}],
           "mark": {"type": "point", "shape": "circle", "filled": true, "stroke": "black", "strokeWidth": 1.2, "opacity": 1, "size": 40},
           "encoding": {
             "x": {"field": "n", "type": "quantitative",
                   "axis": {"orient": "bottom", "values": [5,10,15,20,25,30,35], "format": "~g", "labelFontSize": 18, "tickSize": -5, "labelPadding": 6, "title": "N", "titleFontSize": 21, "titleX": 369, "titleY": 23, "titleAlign": "left", "titleBaseline": "alphabetic", "titleAngle": 0}},
             "y": {"field": "v", "type": "quantitative",
                   "axis": {"orient": "left", "values": [0,0.5,1,1.5,2,2.5,3,3.5], "format": "~g", "labelFontSize": 18, "tickSize": -14, "labelPadding": 18, "title": "r (fm)", "titleAnchor": "end", "titlePadding": 6}},
             "fill": {"field": "s", "type": "nominal", "scale": {"domain": ["Combined sample", "Opposite hem. same charge"], "range": ["black", "white"]},
                      "legend": {"orient": "none", "legendX": 11, "legendY": -37, "title": null, "fillColor": "white", "strokeColor": "black", "padding": 12, "symbolOffset": 11, "labelOffset": 23, "rowPadding": 19, "labelFontSize": 13, "labelFont": "Liberation Sans", "labelFontWeight": "bold", "labelColor": "black", "labelLimit": 300, "symbolStrokeColor": "black", "symbolStrokeWidth": 1, "symbolSize": 40, "symbolType": "circle"}}
           }}
        ]
      }
    ]
  }
]
}
